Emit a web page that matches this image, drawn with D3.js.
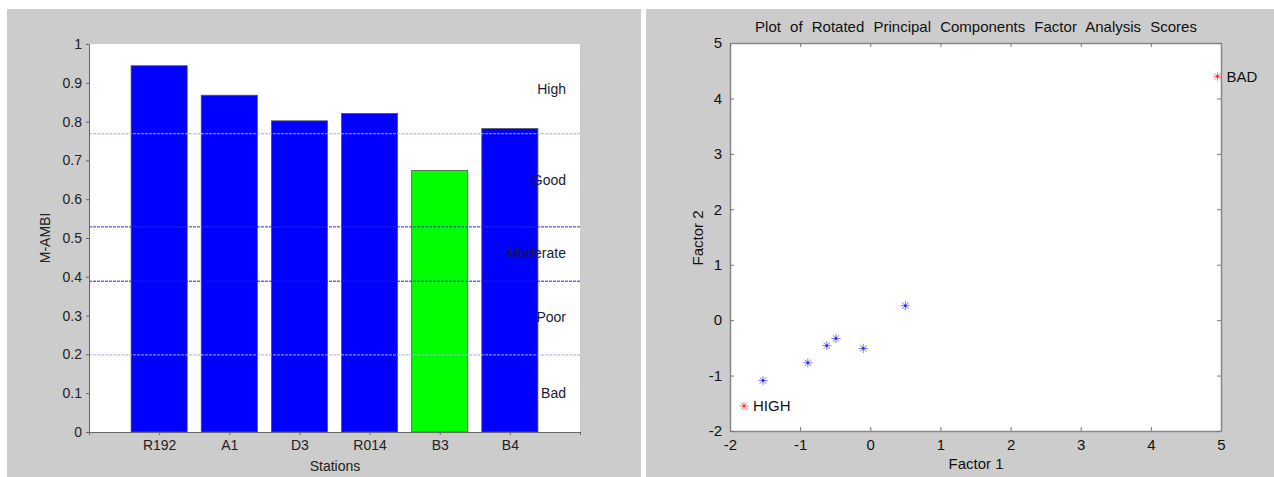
<!DOCTYPE html>
<html><head><meta charset="utf-8">
<script src="https://cdn.jsdelivr.net/npm/d3@7"></script>
<style>body{margin:0;background:#fff}svg{display:block}text{font-family:"Liberation Sans",Arial,sans-serif}</style>
</head><body><svg id="c" width="1274" height="477"></svg>
<script>
// ---- Left chart data ----
const stations = ["R192","A1","D3","R014","B3","B4"];
const mambi = [0.944,0.868,0.802,0.821,0.674,0.782];
const barColors = ["#0000ff","#0000ff","#0000ff","#0000ff","#00ff00","#0000ff"];
const thresholds = [0.77,0.53,0.39,0.20];
const thresholdColors = ["#a8a8ff","#2a2aff","#1a1aee","#a8a8ff"];
const classLabels = ["High","Good","Moderate","Poor","Bad"];
const classLabelY = [0.884,0.65,0.461,0.296,0.10];
const yTicksLeft = [0,0.1,0.2,0.3,0.4,0.5,0.6,0.7,0.8,0.9,1];

// ---- Right chart data ----
const f1 = [-1.53,-0.89,-0.62,-0.49,-0.10,0.50];
const f2 = [-1.09,-0.77,-0.46,-0.33,-0.51,0.26];
const refNames = ["HIGH","BAD"];
const refF1 = [-1.80,4.95];
const refF2 = [-1.55,4.40];
const ticksRight = [-2,-1,0,1,2,3,4,5];

const svg = d3.select("#c");
svg.append("rect").attr("x",7).attr("y",9).attr("width",634).attr("height",468).attr("fill","#cccccc");
svg.append("rect").attr("x",646).attr("y",9).attr("width",628).attr("height",468).attr("fill","#cccccc");

// ===== Left =====
const L = {x0:89,x1:580,y0:44,y1:432};
const gL = svg.append("g");
gL.append("rect").attr("x",L.x0).attr("y",L.y0).attr("width",L.x1-L.x0).attr("height",L.y1-L.y0).attr("fill","#fff");
const xL = d3.scaleLinear().domain([0,stations.length+1]).range([L.x0,L.x1]);
const yL = d3.scaleLinear().domain([0,1]).range([L.y1,L.y0]);
const bw = (xL(1)-xL(0))*0.8;
gL.selectAll("rect.bar").data(mambi).join("rect").attr("class","bar")
  .attr("x",(d,i)=>xL(i+1)-bw/2).attr("y",d=>yL(d))
  .attr("width",bw).attr("height",d=>yL(0)-yL(d))
  .attr("fill",(d,i)=>barColors[i]).attr("stroke","#555").attr("stroke-width",0.8);
gL.selectAll("line.thr").data(thresholds).join("line").attr("class","thr")
  .attr("x1",L.x0).attr("x2",L.x1).attr("y1",d=>yL(d)+0.5).attr("y2",d=>yL(d)+0.5)
  .attr("stroke",(d,i)=>thresholdColors[i]).attr("stroke-width",1).attr("stroke-dasharray","3,1");
gL.selectAll("text.cls").data(classLabels).join("text").attr("class","cls")
  .attr("x",566).attr("y",(d,i)=>yL(classLabelY[i])).attr("dy","0.35em")
  .attr("text-anchor","end").attr("font-size",14).attr("fill","#1a1a33").text(d=>d);
// y axis
const ay = gL.append("g").attr("transform",`translate(${L.x0},0)`)
  .call(d3.axisLeft(yL).tickValues(yTicksLeft).tickSize(3).tickPadding(4).tickFormat(d=>d===0||d===1?String(d):d3.format(".1f")(d)));
ay.select(".domain").attr("stroke","#666");
ay.selectAll(".tick line").attr("stroke","#666");
ay.selectAll("text").attr("font-size",14).attr("fill","#222").style("font-family","Liberation Sans, Arial, sans-serif");
// x axis
const ax = gL.append("g").attr("transform",`translate(0,${L.y1})`)
  .call(d3.axisBottom(xL).tickValues(d3.range(0,stations.length+2)).tickSize(3).tickPadding(5).tickFormat(d=>stations[d-1]||""));
ax.select(".domain").attr("stroke","#666");
ax.selectAll(".tick line").attr("stroke","#666");
ax.selectAll("text").attr("font-size",14).attr("fill","#222").style("font-family","Liberation Sans, Arial, sans-serif");
gL.append("text").attr("x",335).attr("y",471).attr("text-anchor","middle").attr("font-size",14).attr("fill","#222").text("Stations");
gL.append("text").attr("transform","translate(50,238) rotate(-90)").attr("text-anchor","middle").attr("font-size",14).attr("fill","#222").text("M-AMBI");

// ===== Right =====
const R = {x0:730,x1:1221,y0:43,y1:431};
const gR = svg.append("g");
gR.append("rect").attr("x",R.x0).attr("y",R.y0).attr("width",R.x1-R.x0).attr("height",R.y1-R.y0).attr("fill","#fff");
const xR = d3.scaleLinear().domain([-2,5]).range([R.x0,R.x1]);
const yR = d3.scaleLinear().domain([-2,5]).range([R.y1,R.y0]);
function styleAx(g){
  g.select(".domain").attr("stroke","#888").attr("stroke-width",1.5);
  g.selectAll(".tick line").attr("stroke","#777");
  g.selectAll("text").attr("font-size",15).attr("fill","#111").style("font-family","Liberation Sans, Arial, sans-serif");
}
const fmt = d=>String(d);
styleAx(gR.append("g").attr("transform",`translate(0,${R.y1})`).call(d3.axisBottom(xR).tickValues(ticksRight).tickFormat(fmt).tickSizeInner(-4).tickSizeOuter(0).tickPadding(8)));
styleAx(gR.append("g").attr("transform",`translate(${R.x0},0)`).call(d3.axisLeft(yR).tickValues(ticksRight).tickFormat(fmt).tickSizeInner(-4).tickSizeOuter(0).tickPadding(8)));
styleAx(gR.append("g").attr("transform",`translate(0,${R.y0})`).call(d3.axisTop(xR).tickValues(ticksRight).tickSizeInner(-4).tickSizeOuter(0).tickFormat("")));
styleAx(gR.append("g").attr("transform",`translate(${R.x1},0)`).call(d3.axisRight(yR).tickValues(ticksRight).tickSizeInner(-4).tickSizeOuter(0).tickFormat("")));

function asterisk(g,cx,cy,color){
  const r=4.5, s=r*0.707;
  const segs=[[-r,0,r,0],[0,-r,0,r],[-s,-s,s,s],[-s,s,s,-s]];
  const a=g.append("g").attr("transform",`translate(${cx},${cy})`);
  a.selectAll("line").data(segs).join("line")
   .attr("x1",d=>d[0]).attr("y1",d=>d[1]).attr("x2",d=>d[2]).attr("y2",d=>d[3])
   .attr("stroke",color).attr("stroke-width",1).attr("stroke-opacity",0.6);
  a.append("circle").attr("r",1.2).attr("fill",color);
}
const pts = f1.map((v,i)=>({x:v,y:f2[i]}));
pts.forEach(p=>asterisk(gR,xR(p.x),yR(p.y),"#1a1aff"));
refNames.forEach((n,i)=>{
  asterisk(gR,xR(refF1[i]),yR(refF2[i]),"#ff2020");
  gR.append("text").attr("x",xR(refF1[i])+9).attr("y",yR(refF2[i])).attr("dy","0.36em")
    .attr("font-size",15).attr("fill","#111").text(n);
});
gR.append("text").attr("x",976).attr("y",32).attr("text-anchor","middle").attr("font-size",15).attr("fill","#111")
  .attr("word-spacing","5px").text("Plot of Rotated Principal Components Factor Analysis Scores");
gR.append("text").attr("x",976).attr("y",469).attr("text-anchor","middle").attr("font-size",15).attr("fill","#111").text("Factor 1");
gR.append("text").attr("transform","translate(703,238) rotate(-90)").attr("text-anchor","middle").attr("font-size",15).attr("fill","#111").text("Factor 2");
</script></body></html>
